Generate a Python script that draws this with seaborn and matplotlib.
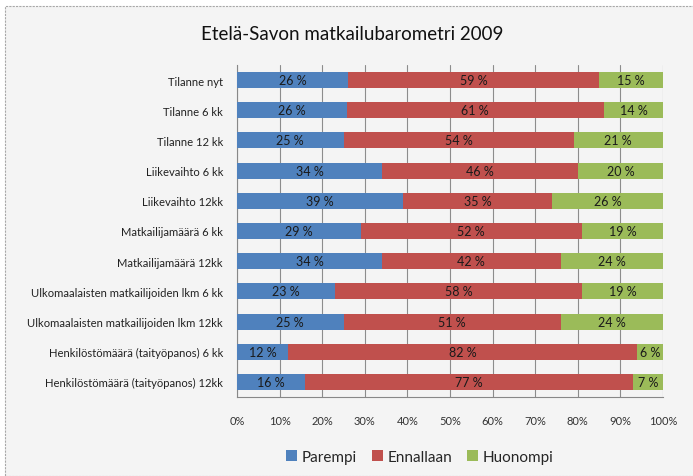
import matplotlib
matplotlib.use("Agg")
import matplotlib.pyplot as plt
import seaborn as sns
import pandas as pd
import numpy as np
from matplotlib.patches import Rectangle, Patch

categories = [
    "Tilanne nyt",
    "Tilanne 6 kk",
    "Tilanne 12 kk",
    "Liikevaihto 6 kk",
    "Liikevaihto 12kk",
    "Matkailijamäärä 6 kk",
    "Matkailijamäärä 12kk",
    "Ulkomaalaisten matkailijoiden lkm 6 kk",
    "Ulkomaalaisten matkailijoiden lkm 12kk",
    "Henkilöstömäärä (taityöpanos) 6 kk",
    "Henkilöstömäärä (taityöpanos) 12kk",
]
parempi = [26, 26, 25, 34, 39, 29, 34, 23, 25, 12, 16]
ennallaan = [59, 61, 54, 46, 35, 52, 42, 58, 51, 82, 77]
huonompi = [15, 14, 21, 20, 26, 19, 24, 19, 24, 6, 7]
series_names = ["Parempi", "Ennallaan", "Huonompi"]
colors = ["#4F81BD", "#C0504D", "#9BBB59"]
xticks = [0, 10, 20, 30, 40, 50, 60, 70, 80, 90, 100]

sns.set_style("white")
plt.rcParams["font.family"] = ["Lato", "DejaVu Sans"]

df = pd.DataFrame({"cat": categories, "P": parempi, "E": ennallaan, "H": huonompi})
tot = df["P"] + df["E"] + df["H"]
df["c1"] = df["P"] / tot * 100
df["c2"] = (df["P"] + df["E"]) / tot * 100
df["c3"] = 100.0

fig = plt.figure(figsize=(6.93, 4.77), dpi=100)
fig.patch.set_facecolor("white")
bg = Rectangle((5 / 693, 0), 1, 1 - 7 / 477, transform=fig.transFigure,
               facecolor="#F4F4F4", edgecolor="#A8A8A8", linewidth=0.8,
               linestyle=(0, (2, 1)), zorder=-10)
fig.patches.append(bg)

ax = fig.add_axes([237 / 693, 1 - 398 / 477, (663 - 237) / 693, (398 - 66) / 477])
ax.set_facecolor("none")

for col, c in zip(["c3", "c2", "c1"], colors[::-1]):
    sns.barplot(data=df, x=col, y="cat", orient="h", color=c, width=0.53,
                saturation=1, ax=ax, zorder=3, edgecolor="none")

ax.set_xlim(0, 100)
ax.set_xticks(xticks)
ax.set_xticklabels([f"{t}%" for t in xticks], fontsize=8, color="#333333")
ax.set_xlabel("")
ax.set_ylabel("")
ax.tick_params(axis="y", labelsize=8.1, length=0, pad=10)
ax.tick_params(axis="x", length=4, color="#888888", direction="out", pad=9)
for t in ax.get_yticklabels():
    t.set_color("#222222")
ax.grid(axis="x", color="#8C8C8C", linewidth=0.8, zorder=0)
ax.set_axisbelow(True)
for s in ["top", "right"]:
    ax.spines[s].set_visible(False)
for s in ["left", "bottom"]:
    ax.spines[s].set_color("#888888")
    ax.spines[s].set_linewidth(0.8)
ax.set_yticks(np.arange(-0.5, len(categories), 1), minor=True)
ax.tick_params(axis="y", which="minor", length=4, color="#888888", direction="out")

for i in range(len(categories)):
    segs = [(0, df["c1"][i], parempi[i]), (df["c1"][i], df["c2"][i], ennallaan[i]),
            (df["c2"][i], 100, huonompi[i])]
    for a, b, v in segs:
        ax.text((a + b) / 2, i, f"{v} %", ha="center", va="center",
                fontsize=9, color="#1a1a1a", zorder=5)

fig.text(352 / 693, 1 - 35 / 477, "Etelä-Savon matkailubarometri 2009", ha="center",
         va="center", fontsize=13.5, color="#111111")

handles = [Patch(facecolor=c, edgecolor="none") for c in colors]
fig.legend(handles, series_names, loc="center", bbox_to_anchor=(420 / 693, 1 - 458 / 477),
           ncol=3, frameon=False, fontsize=11, handlelength=0.7, handleheight=0.7,
           handletextpad=0.3, columnspacing=1.0)

fig.savefig("out.png", dpi=100, facecolor=fig.get_facecolor())
